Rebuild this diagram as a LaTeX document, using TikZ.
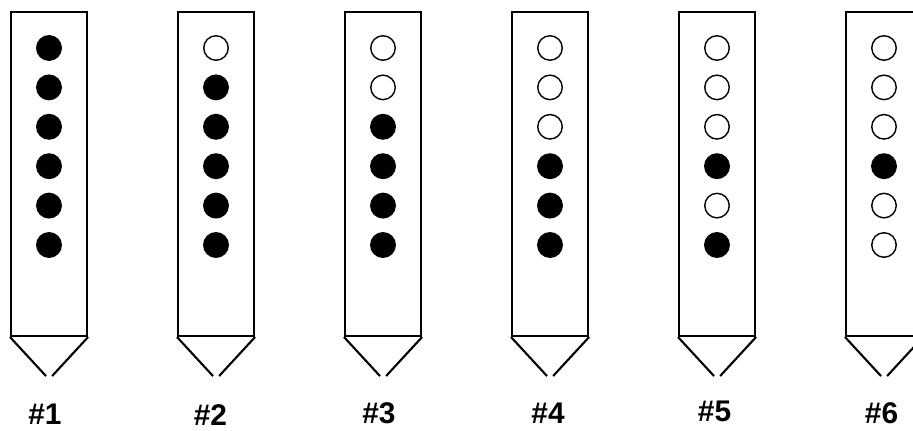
\documentclass[tikz,border=0pt]{standalone}
\usepackage{fontspec}
\setmainfont{Liberation Sans}

\begin{document}
\begin{tikzpicture}[
    x=0.02cm, y=-0.02cm,
    font=\fontsize{17}{19}\selectfont\bfseries,
    probeBody/.style={
        rectangle, draw=black, line width=1.2pt, inner sep=0pt,
        minimum width=1.52cm, minimum height=6.48cm, anchor=north west
    },
    probeTip/.style={line width=1.2pt, draw=black},
    port/.style={
        circle, draw=black, line width=0.8pt, inner sep=0pt, minimum size=0.49cm
    },
    portOn/.style={port, fill=black},
    portOff/.style={port, fill=white},
    probeLabel/.style={anchor=base, inner sep=0pt}
]

\path[use as bounding box, clip] (0,0) rectangle (913,431);

% Probes: number / left edge / label x / label baseline / port states
\foreach \i/\lft/\lx/\ly/\ports in {
    1/10/45/425/{On,On,On,On,On,On},
    2/177/210.5/426/{Off,On,On,On,On,On},
    3/344/379/424/{Off,Off,On,On,On,On},
    4/511/548/424/{Off,Off,Off,On,On,On},
    5/678/714.5/422/{Off,Off,Off,On,Off,On},
    6/845/881.5/424/{Off,Off,Off,On,Off,Off}} {

    \node[probeBody] (probe\i) at (\lft,11) {};

    % Pointed tip
    \draw[probeTip] (probe\i.south west) -- ++(36,39);
    \draw[probeTip] (probe\i.south east) -- ++(-36,39);

    % Ports
    \foreach \p [count=\k] in \ports {
        \node[port\p] (port\i-\k) at (\lft+39, 48+39.4*\k-39.4) {};
    }

    \node[probeLabel] (label\i) at (\lx,\ly) {\#\i};
}

\end{tikzpicture}
\end{document}
